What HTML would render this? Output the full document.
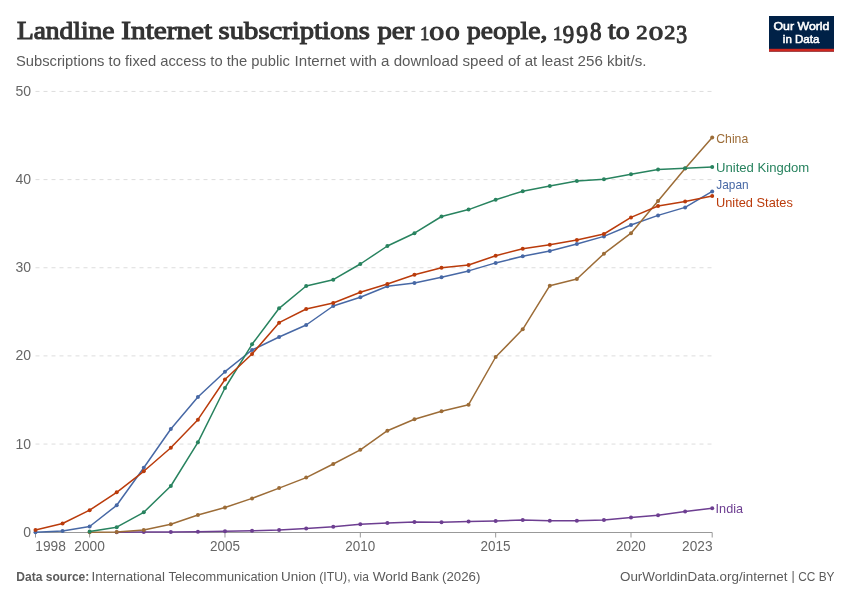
<!DOCTYPE html>
<html><head><meta charset="utf-8"><style>
html,body{margin:0;padding:0;background:#fff;}
body{width:850px;height:600px;overflow:hidden;font-family:"Liberation Sans",sans-serif;}
svg{display:block;will-change:transform;}
</style></head><body>
<svg width="850" height="600" viewBox="0 0 850 600">
<rect width="850" height="600" fill="#fff"/>
<text transform="translate(16.88,39.32) scale(0.9805,0.9300)" style="font-family:'Liberation Serif',serif;font-weight:normal;font-size:28px;stroke:#333;stroke-width:1.2px" fill="#333">Landline</text>
<text transform="translate(121.36,39.32) scale(1.0431,0.9300)" style="font-family:'Liberation Serif',serif;font-weight:normal;font-size:28px;stroke:#333;stroke-width:1.2px" fill="#333">Internet</text>
<text transform="translate(218.57,39.32) scale(1.0247,0.9300)" style="font-family:'Liberation Serif',serif;font-weight:normal;font-size:28px;stroke:#333;stroke-width:1.2px" fill="#333">subscriptions</text>
<text transform="translate(377.38,39.32) scale(1.0343,0.9300)" style="font-family:'Liberation Serif',serif;font-weight:normal;font-size:28px;stroke:#333;stroke-width:1.2px" fill="#333">per</text>
<text transform="translate(467.01,39.32) scale(0.9836,0.9300)" style="font-family:'Liberation Serif',serif;font-weight:normal;font-size:28px;stroke:#333;stroke-width:1.2px" fill="#333">people,</text>
<text transform="translate(608.10,39.32) scale(0.9951,0.9300)" style="font-family:'Liberation Serif',serif;font-weight:normal;font-size:28px;stroke:#333;stroke-width:1.2px" fill="#333">to</text>
<text transform="translate(419.92,39.52) scale(0.6735,0.6595)" style="font-family:'Liberation Serif',serif;font-weight:normal;font-size:28px;stroke:#333;stroke-width:1.2px" fill="#333">1</text>
<text transform="translate(429.23,39.52) scale(1.0678,0.6811)" style="font-family:'Liberation Serif',serif;font-weight:normal;font-size:28px;stroke:#333;stroke-width:1.2px" fill="#333">0</text>
<text transform="translate(445.16,39.52) scale(1.0339,0.6811)" style="font-family:'Liberation Serif',serif;font-weight:normal;font-size:28px;stroke:#333;stroke-width:1.2px" fill="#333">0</text>
<text transform="translate(552.64,39.52) scale(0.7041,0.6595)" style="font-family:'Liberation Serif',serif;font-weight:normal;font-size:28px;stroke:#333;stroke-width:1.2px" fill="#333">1</text>
<text transform="translate(562.87,43.12) scale(0.8151,0.8865)" style="font-family:'Liberation Serif',serif;font-weight:normal;font-size:28px;stroke:#333;stroke-width:1.2px" fill="#333">9</text>
<text transform="translate(576.24,43.12) scale(0.8487,0.8865)" style="font-family:'Liberation Serif',serif;font-weight:normal;font-size:28px;stroke:#333;stroke-width:1.2px" fill="#333">9</text>
<text transform="translate(589.90,39.52) scale(0.8220,0.9243)" style="font-family:'Liberation Serif',serif;font-weight:normal;font-size:28px;stroke:#333;stroke-width:1.2px" fill="#333">8</text>
<text transform="translate(636.32,39.32) scale(0.8142,0.6649)" style="font-family:'Liberation Serif',serif;font-weight:normal;font-size:28px;stroke:#333;stroke-width:1.2px" fill="#333">2</text>
<text transform="translate(648.66,39.52) scale(1.0339,0.6811)" style="font-family:'Liberation Serif',serif;font-weight:normal;font-size:28px;stroke:#333;stroke-width:1.2px" fill="#333">0</text>
<text transform="translate(664.34,39.32) scale(0.7965,0.6649)" style="font-family:'Liberation Serif',serif;font-weight:normal;font-size:28px;stroke:#333;stroke-width:1.2px" fill="#333">2</text>
<text transform="translate(676.29,43.12) scale(0.7759,0.8703)" style="font-family:'Liberation Serif',serif;font-weight:normal;font-size:28px;stroke:#333;stroke-width:1.2px" fill="#333">3</text>
<text transform="translate(15.89,65.60) scale(1.0186,1.0000)" style="font-family:'Liberation Sans',sans-serif;font-weight:normal;font-size:14.5px" fill="#5b5b5b">Subscriptions to fixed access to the public</text>
<text transform="translate(294.54,65.60) scale(1.0436,1.0000)" style="font-family:'Liberation Sans',sans-serif;font-weight:normal;font-size:14.5px" fill="#5b5b5b">Internet with a download speed of at least 256 kbit/s.</text>
<rect x="769" y="16" width="65" height="35.6" fill="#002147"/><rect x="769" y="48.8" width="65" height="2.8" fill="#CE261E"/>
<text transform="translate(773.47,30.45) scale(1.0561,1.0000)" style="font-family:'Liberation Sans',sans-serif;font-weight:normal;font-size:11.7px;stroke:#fff;stroke-width:0.55px" fill="#ffffff">Our World</text>
<text transform="translate(782.81,42.55) scale(0.9890,1.0000)" style="font-family:'Liberation Sans',sans-serif;font-weight:normal;font-size:11.7px;stroke:#fff;stroke-width:0.55px" fill="#ffffff">in Data</text>
<line x1="35.5" x2="712" y1="444.05" y2="444.05" stroke="#dddddd" stroke-width="1" stroke-dasharray="4,4"/>
<line x1="35.5" x2="712" y1="355.90" y2="355.90" stroke="#dddddd" stroke-width="1" stroke-dasharray="4,4"/>
<line x1="35.5" x2="712" y1="267.75" y2="267.75" stroke="#dddddd" stroke-width="1" stroke-dasharray="4,4"/>
<line x1="35.5" x2="712" y1="179.60" y2="179.60" stroke="#dddddd" stroke-width="1" stroke-dasharray="4,4"/>
<line x1="35.5" x2="712" y1="91.45" y2="91.45" stroke="#dddddd" stroke-width="1" stroke-dasharray="4,4"/>
<text x="23.20" y="536.70" style="font-family:'Liberation Sans',sans-serif;font-size:14px" fill="#666666">0</text>
<text x="15.40" y="448.55" style="font-family:'Liberation Sans',sans-serif;font-size:14px" fill="#666666">10</text>
<text x="15.40" y="360.40" style="font-family:'Liberation Sans',sans-serif;font-size:14px" fill="#666666">20</text>
<text x="15.40" y="272.25" style="font-family:'Liberation Sans',sans-serif;font-size:14px" fill="#666666">30</text>
<text x="15.40" y="184.10" style="font-family:'Liberation Sans',sans-serif;font-size:14px" fill="#666666">40</text>
<text x="15.40" y="95.95" style="font-family:'Liberation Sans',sans-serif;font-size:14px" fill="#666666">50</text>
<line x1="35.5" x2="712.2" y1="532.5" y2="532.5" stroke="#999" stroke-width="1"/>
<line x1="35.50" x2="35.50" y1="532.5" y2="537.5" stroke="#999" stroke-width="1"/>
<line x1="89.64" x2="89.64" y1="532.5" y2="537.5" stroke="#999" stroke-width="1"/>
<line x1="224.98" x2="224.98" y1="532.5" y2="537.5" stroke="#999" stroke-width="1"/>
<line x1="360.32" x2="360.32" y1="532.5" y2="537.5" stroke="#999" stroke-width="1"/>
<line x1="495.66" x2="495.66" y1="532.5" y2="537.5" stroke="#999" stroke-width="1"/>
<line x1="631.00" x2="631.00" y1="532.5" y2="537.5" stroke="#999" stroke-width="1"/>
<line x1="712.20" x2="712.20" y1="532.5" y2="537.5" stroke="#999" stroke-width="1"/>
<text transform="translate(35.30,550.60) scale(0.9966,1.0000)" style="font-family:'Liberation Sans',sans-serif;font-weight:normal;font-size:13.8px" fill="#666666">1998</text>
<text transform="translate(74.30,550.60) scale(0.9966,1.0000)" style="font-family:'Liberation Sans',sans-serif;font-weight:normal;font-size:13.8px" fill="#666666">2000</text>
<text transform="translate(209.89,550.60) scale(0.9796,1.0000)" style="font-family:'Liberation Sans',sans-serif;font-weight:normal;font-size:13.8px" fill="#666666">2005</text>
<text transform="translate(345.23,550.60) scale(0.9763,1.0000)" style="font-family:'Liberation Sans',sans-serif;font-weight:normal;font-size:13.8px" fill="#666666">2010</text>
<text transform="translate(480.57,550.60) scale(0.9796,1.0000)" style="font-family:'Liberation Sans',sans-serif;font-weight:normal;font-size:13.8px" fill="#666666">2015</text>
<text transform="translate(615.91,550.60) scale(0.9763,1.0000)" style="font-family:'Liberation Sans',sans-serif;font-weight:normal;font-size:13.8px" fill="#666666">2020</text>
<text transform="translate(682.11,550.60) scale(0.9898,1.0000)" style="font-family:'Liberation Sans',sans-serif;font-weight:normal;font-size:13.8px" fill="#666666">2023</text>
<polyline points="116.70,532.20 143.77,532.00 170.84,531.90 197.91,531.80 224.98,531.20 252.04,530.80 279.11,530.00 306.18,528.40 333.25,526.70 360.32,524.35 387.38,522.90 414.45,522.00 441.52,522.20 468.59,521.60 495.66,521.00 522.72,520.10 549.79,520.70 576.86,520.70 603.93,520.10 631.00,517.60 658.06,515.20 685.13,511.50 712.20,508.20" fill="none" stroke="#6D3E91" stroke-width="1.5" stroke-linejoin="round" stroke-linecap="round"/>
<g fill="#6D3E91"><circle cx="116.70" cy="532.20" r="2"/><circle cx="143.77" cy="532.00" r="2"/><circle cx="170.84" cy="531.90" r="2"/><circle cx="197.91" cy="531.80" r="2"/><circle cx="224.98" cy="531.20" r="2"/><circle cx="252.04" cy="530.80" r="2"/><circle cx="279.11" cy="530.00" r="2"/><circle cx="306.18" cy="528.40" r="2"/><circle cx="333.25" cy="526.70" r="2"/><circle cx="360.32" cy="524.35" r="2"/><circle cx="387.38" cy="522.90" r="2"/><circle cx="414.45" cy="522.00" r="2"/><circle cx="441.52" cy="522.20" r="2"/><circle cx="468.59" cy="521.60" r="2"/><circle cx="495.66" cy="521.00" r="2"/><circle cx="522.72" cy="520.10" r="2"/><circle cx="549.79" cy="520.70" r="2"/><circle cx="576.86" cy="520.70" r="2"/><circle cx="603.93" cy="520.10" r="2"/><circle cx="631.00" cy="517.60" r="2"/><circle cx="658.06" cy="515.20" r="2"/><circle cx="685.13" cy="511.50" r="2"/><circle cx="712.20" cy="508.20" r="2"/></g>
<polyline points="35.50,532.30 62.57,530.90 89.64,526.50 116.70,505.30 143.77,467.70 170.84,429.00 197.91,397.00 224.98,371.70 252.04,350.00 279.11,337.00 306.18,325.00 333.25,306.00 360.32,297.30 387.38,286.30 414.45,283.10 441.52,277.30 468.59,270.90 495.66,262.90 522.72,256.30 549.79,250.90 576.86,244.00 603.93,236.40 631.00,225.00 658.06,215.40 685.13,207.40 712.20,191.40" fill="none" stroke="#4768A5" stroke-width="1.5" stroke-linejoin="round" stroke-linecap="round"/>
<g fill="#4768A5"><circle cx="35.50" cy="532.30" r="2"/><circle cx="62.57" cy="530.90" r="2"/><circle cx="89.64" cy="526.50" r="2"/><circle cx="116.70" cy="505.30" r="2"/><circle cx="143.77" cy="467.70" r="2"/><circle cx="170.84" cy="429.00" r="2"/><circle cx="197.91" cy="397.00" r="2"/><circle cx="224.98" cy="371.70" r="2"/><circle cx="252.04" cy="350.00" r="2"/><circle cx="279.11" cy="337.00" r="2"/><circle cx="306.18" cy="325.00" r="2"/><circle cx="333.25" cy="306.00" r="2"/><circle cx="360.32" cy="297.30" r="2"/><circle cx="387.38" cy="286.30" r="2"/><circle cx="414.45" cy="283.10" r="2"/><circle cx="441.52" cy="277.30" r="2"/><circle cx="468.59" cy="270.90" r="2"/><circle cx="495.66" cy="262.90" r="2"/><circle cx="522.72" cy="256.30" r="2"/><circle cx="549.79" cy="250.90" r="2"/><circle cx="576.86" cy="244.00" r="2"/><circle cx="603.93" cy="236.40" r="2"/><circle cx="631.00" cy="225.00" r="2"/><circle cx="658.06" cy="215.40" r="2"/><circle cx="685.13" cy="207.40" r="2"/><circle cx="712.20" cy="191.40" r="2"/></g>
<polyline points="89.64,532.20 116.70,532.00 143.77,529.90 170.84,524.30 197.91,515.00 224.98,507.50 252.04,498.40 279.11,488.10 306.18,477.60 333.25,464.00 360.32,449.80 387.38,430.70 414.45,419.30 441.52,411.30 468.59,404.70 495.66,357.00 522.72,329.30 549.79,285.70 576.86,279.00 603.93,253.70 631.00,233.20 658.06,201.00 685.13,168.50 712.20,137.50" fill="none" stroke="#9C6C37" stroke-width="1.5" stroke-linejoin="round" stroke-linecap="round"/>
<g fill="#9C6C37"><circle cx="89.64" cy="532.20" r="2"/><circle cx="116.70" cy="532.00" r="2"/><circle cx="143.77" cy="529.90" r="2"/><circle cx="170.84" cy="524.30" r="2"/><circle cx="197.91" cy="515.00" r="2"/><circle cx="224.98" cy="507.50" r="2"/><circle cx="252.04" cy="498.40" r="2"/><circle cx="279.11" cy="488.10" r="2"/><circle cx="306.18" cy="477.60" r="2"/><circle cx="333.25" cy="464.00" r="2"/><circle cx="360.32" cy="449.80" r="2"/><circle cx="387.38" cy="430.70" r="2"/><circle cx="414.45" cy="419.30" r="2"/><circle cx="441.52" cy="411.30" r="2"/><circle cx="468.59" cy="404.70" r="2"/><circle cx="495.66" cy="357.00" r="2"/><circle cx="522.72" cy="329.30" r="2"/><circle cx="549.79" cy="285.70" r="2"/><circle cx="576.86" cy="279.00" r="2"/><circle cx="603.93" cy="253.70" r="2"/><circle cx="631.00" cy="233.20" r="2"/><circle cx="658.06" cy="201.00" r="2"/><circle cx="685.13" cy="168.50" r="2"/><circle cx="712.20" cy="137.50" r="2"/></g>
<polyline points="89.64,531.50 116.70,527.20 143.77,512.30 170.84,486.00 197.91,442.30 224.98,388.00 252.04,344.30 279.11,308.30 306.18,286.00 333.25,279.70 360.32,264.00 387.38,246.00 414.45,233.20 441.52,216.50 468.59,209.60 495.66,199.70 522.72,191.20 549.79,186.10 576.86,181.00 603.93,179.20 631.00,174.20 658.06,169.60 685.13,168.20 712.20,167.00" fill="none" stroke="#28835F" stroke-width="1.5" stroke-linejoin="round" stroke-linecap="round"/>
<g fill="#28835F"><circle cx="89.64" cy="531.50" r="2"/><circle cx="116.70" cy="527.20" r="2"/><circle cx="143.77" cy="512.30" r="2"/><circle cx="170.84" cy="486.00" r="2"/><circle cx="197.91" cy="442.30" r="2"/><circle cx="224.98" cy="388.00" r="2"/><circle cx="252.04" cy="344.30" r="2"/><circle cx="279.11" cy="308.30" r="2"/><circle cx="306.18" cy="286.00" r="2"/><circle cx="333.25" cy="279.70" r="2"/><circle cx="360.32" cy="264.00" r="2"/><circle cx="387.38" cy="246.00" r="2"/><circle cx="414.45" cy="233.20" r="2"/><circle cx="441.52" cy="216.50" r="2"/><circle cx="468.59" cy="209.60" r="2"/><circle cx="495.66" cy="199.70" r="2"/><circle cx="522.72" cy="191.20" r="2"/><circle cx="549.79" cy="186.10" r="2"/><circle cx="576.86" cy="181.00" r="2"/><circle cx="603.93" cy="179.20" r="2"/><circle cx="631.00" cy="174.20" r="2"/><circle cx="658.06" cy="169.60" r="2"/><circle cx="685.13" cy="168.20" r="2"/><circle cx="712.20" cy="167.00" r="2"/></g>
<polyline points="35.50,529.90 62.57,523.50 89.64,510.20 116.70,492.30 143.77,471.30 170.84,447.70 197.91,419.70 224.98,379.50 252.04,354.00 279.11,322.70 306.18,309.00 333.25,303.00 360.32,292.30 387.38,284.00 414.45,274.80 441.52,267.70 468.59,265.00 495.66,255.70 522.72,248.80 549.79,244.80 576.86,240.00 603.93,234.00 631.00,217.40 658.06,206.00 685.13,201.40 712.20,196.00" fill="none" stroke="#BA3B0B" stroke-width="1.5" stroke-linejoin="round" stroke-linecap="round"/>
<g fill="#BA3B0B"><circle cx="35.50" cy="529.90" r="2"/><circle cx="62.57" cy="523.50" r="2"/><circle cx="89.64" cy="510.20" r="2"/><circle cx="116.70" cy="492.30" r="2"/><circle cx="143.77" cy="471.30" r="2"/><circle cx="170.84" cy="447.70" r="2"/><circle cx="197.91" cy="419.70" r="2"/><circle cx="224.98" cy="379.50" r="2"/><circle cx="252.04" cy="354.00" r="2"/><circle cx="279.11" cy="322.70" r="2"/><circle cx="306.18" cy="309.00" r="2"/><circle cx="333.25" cy="303.00" r="2"/><circle cx="360.32" cy="292.30" r="2"/><circle cx="387.38" cy="284.00" r="2"/><circle cx="414.45" cy="274.80" r="2"/><circle cx="441.52" cy="267.70" r="2"/><circle cx="468.59" cy="265.00" r="2"/><circle cx="495.66" cy="255.70" r="2"/><circle cx="522.72" cy="248.80" r="2"/><circle cx="549.79" cy="244.80" r="2"/><circle cx="576.86" cy="240.00" r="2"/><circle cx="603.93" cy="234.00" r="2"/><circle cx="631.00" cy="217.40" r="2"/><circle cx="658.06" cy="206.00" r="2"/><circle cx="685.13" cy="201.40" r="2"/><circle cx="712.20" cy="196.00" r="2"/></g>
<text transform="translate(716.27,142.60) scale(0.8994,1.0000)" style="font-family:'Liberation Sans',sans-serif;font-weight:normal;font-size:13.6px" fill="#9C6C37">China</text>
<text transform="translate(715.94,171.50) scale(0.9652,1.0000)" style="font-family:'Liberation Sans',sans-serif;font-weight:normal;font-size:13.6px" fill="#28835F">United Kingdom</text>
<text transform="translate(716.33,189.30) scale(0.8722,1.0000)" style="font-family:'Liberation Sans',sans-serif;font-weight:normal;font-size:13.6px" fill="#4768A5">Japan</text>
<text transform="translate(715.96,207.40) scale(0.9426,1.0000)" style="font-family:'Liberation Sans',sans-serif;font-weight:normal;font-size:13.6px" fill="#BA3B0B">United States</text>
<text transform="translate(715.59,512.80) scale(0.9326,1.0000)" style="font-family:'Liberation Sans',sans-serif;font-weight:normal;font-size:13.6px" fill="#6D3E91">India</text>
<text transform="translate(16.29,580.50) scale(0.9575,1.0000)" style="font-family:'Liberation Sans',sans-serif;font-weight:bold;font-size:12.6px" fill="#5b5b5b">Data source:</text>
<text transform="translate(91.62,580.60) scale(1.0739,1.0000)" style="font-family:'Liberation Sans',sans-serif;font-weight:normal;font-size:12.4px" fill="#5b5b5b">International</text>
<text transform="translate(168.59,580.60) scale(1.0333,1.0000)" style="font-family:'Liberation Sans',sans-serif;font-weight:normal;font-size:12.4px" fill="#5b5b5b">Telecommunication</text>
<text transform="translate(281.02,580.60) scale(1.0817,1.0000)" style="font-family:'Liberation Sans',sans-serif;font-weight:normal;font-size:12.4px" fill="#5b5b5b">Union</text>
<text transform="translate(319.21,580.60) scale(0.9899,1.0000)" style="font-family:'Liberation Sans',sans-serif;font-weight:normal;font-size:12.4px" fill="#5b5b5b">(ITU),</text>
<text transform="translate(353.60,580.60) scale(0.9682,1.0000)" style="font-family:'Liberation Sans',sans-serif;font-weight:normal;font-size:12.4px" fill="#5b5b5b">via</text>
<text transform="translate(372.69,580.60) scale(1.0994,1.0000)" style="font-family:'Liberation Sans',sans-serif;font-weight:normal;font-size:12.4px" fill="#5b5b5b">World</text>
<text transform="translate(411.12,580.60) scale(0.9780,1.0000)" style="font-family:'Liberation Sans',sans-serif;font-weight:normal;font-size:12.4px" fill="#5b5b5b">Bank</text>
<text transform="translate(442.04,580.60) scale(1.0700,1.0000)" style="font-family:'Liberation Sans',sans-serif;font-weight:normal;font-size:12.4px" fill="#5b5b5b">(2026)</text>
<text transform="translate(619.95,580.60) scale(1.0837,1.0000)" style="font-family:'Liberation Sans',sans-serif;font-weight:normal;font-size:12.4px" fill="#5b5b5b">OurWorldinData.org/internet</text>
<text transform="translate(798.22,580.60) scale(0.9595,1.0000)" style="font-family:'Liberation Sans',sans-serif;font-weight:normal;font-size:12.4px" fill="#5b5b5b">CC BY</text>
<text x="791.60" y="580.1" style="font-family:'Liberation Sans',sans-serif;font-size:12.4px" fill="#5b5b5b">|</text>
</svg>
</body></html>
